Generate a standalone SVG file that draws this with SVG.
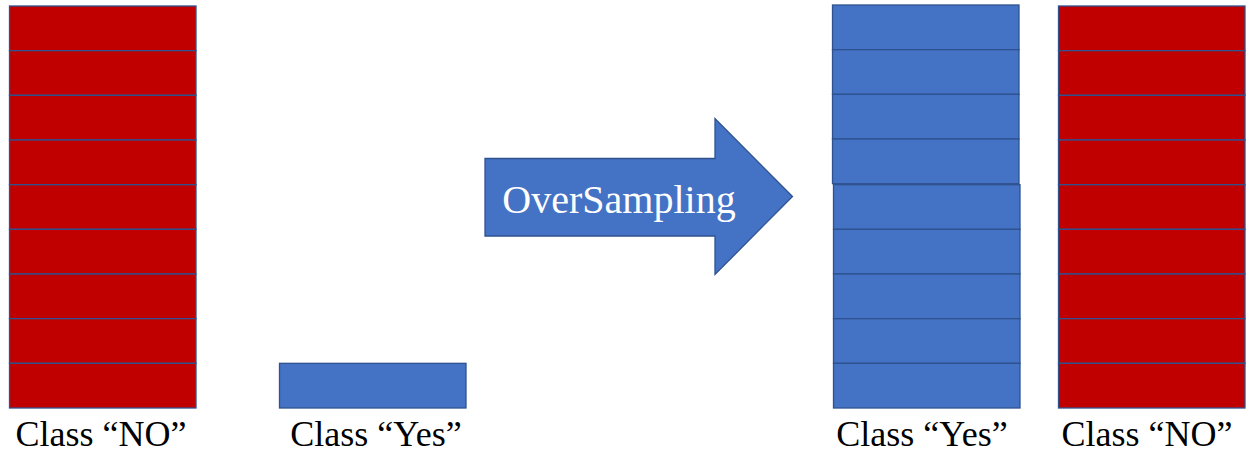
<svg xmlns="http://www.w3.org/2000/svg" width="1247" height="454" viewBox="0 0 1247 454">
<defs>
<rect id="rbox" x="0" y="0" width="186.5" height="44.67" fill="#C00000" stroke="#2F528F" stroke-width="1.3"/>
<rect id="bbox" x="0" y="0" width="186.5" height="44.67" fill="#4472C4" stroke="#2F528F" stroke-width="1.3"/>
</defs>
<rect width="1247" height="454" fill="#fff"/>
<g id="no-before">
<use href="#rbox" x="9.5" y="6"/>
<use href="#rbox" x="9.5" y="50.67"/>
<use href="#rbox" x="9.5" y="95.33"/>
<use href="#rbox" x="9.5" y="140"/>
<use href="#rbox" x="9.5" y="184.67"/>
<use href="#rbox" x="9.5" y="229.33"/>
<use href="#rbox" x="9.5" y="274"/>
<use href="#rbox" x="9.5" y="318.67"/>
<use href="#rbox" x="9.5" y="363.33"/>
<text x="101" y="446" font-family="Liberation Serif" font-size="36" fill="#000" text-anchor="middle">Class “NO”</text>
</g>
<g id="yes-before">
<use href="#bbox" x="279.5" y="363.33"/>
<text x="376" y="446" font-family="Liberation Serif" font-size="36" fill="#000" text-anchor="middle">Class “Yes”</text>
</g>
<g id="oversampling-arrow">
<path d="M485,158.5 L715,158.5 L715,118.5 L792.5,196.5 L715,274.5 L715,236 L485,236 Z" fill="#4472C4" stroke="#2F528F" stroke-width="1.3"/>
<text x="619" y="213" font-family="Liberation Serif" font-size="40" fill="#fff" text-anchor="middle">OverSampling</text>
</g>
<g id="yes-after">
<use href="#bbox" x="832.5" y="5"/>
<use href="#bbox" x="832.5" y="49.67"/>
<use href="#bbox" x="832.5" y="94.33"/>
<use href="#bbox" x="832.5" y="139"/>
<use href="#bbox" x="833.5" y="184.67"/>
<use href="#bbox" x="833.5" y="229.33"/>
<use href="#bbox" x="833.5" y="274"/>
<use href="#bbox" x="833.5" y="318.67"/>
<use href="#bbox" x="833.5" y="363.33"/>
<text x="922" y="446" font-family="Liberation Serif" font-size="36" fill="#000" text-anchor="middle">Class “Yes”</text>
</g>
<g id="no-after">
<use href="#rbox" x="1058.5" y="6"/>
<use href="#rbox" x="1058.5" y="50.67"/>
<use href="#rbox" x="1058.5" y="95.33"/>
<use href="#rbox" x="1058.5" y="140"/>
<use href="#rbox" x="1058.5" y="184.67"/>
<use href="#rbox" x="1058.5" y="229.33"/>
<use href="#rbox" x="1058.5" y="274"/>
<use href="#rbox" x="1058.5" y="318.67"/>
<use href="#rbox" x="1058.5" y="363.33"/>
<text x="1147" y="446" font-family="Liberation Serif" font-size="36" fill="#000" text-anchor="middle">Class “NO”</text>
</g>
</svg>
